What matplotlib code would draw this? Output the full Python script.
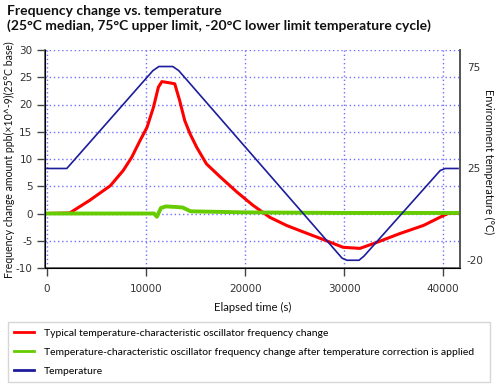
import numpy as np
import matplotlib
matplotlib.use("Agg")
import matplotlib.pyplot as plt
from matplotlib.lines import Line2D

# data (time in s)
red_time = [0, 2300, 4300, 6400, 7700, 8550, 9400, 10100, 10750, 11250, 11600, 12300,
            12900, 13400, 13900, 14450, 15100, 16100, 17500, 19200, 20800, 22500,
            24200, 25900, 27500, 29900, 31600, 33300, 35600, 38000, 40000, 40500, 41500]
red_ppb = [0, 0.1, 2.4, 5.1, 7.9, 10.3, 13.4, 15.8, 19.5, 23.2, 24.2, 24.0,
           23.8, 20.7, 17.1, 14.6, 12.2, 9.1, 6.7, 3.9, 1.5, -0.7,
           -2.2, -3.4, -4.5, -6.2, -6.4, -5.3, -3.7, -2.2, -0.4, 0, 0]

green_time = [0, 10800, 11100, 11500, 12000, 13000, 13700, 14500, 20000, 30000, 41500]
green_ppb = [0, 0, -0.6, 1.0, 1.3, 1.2, 1.1, 0.4, 0.2, 0.1, 0.1]

temp_time = [0, 2000, 10700, 11300, 12700, 13300, 29800, 30300, 31500, 32000, 39700, 40200, 41500]
temp_c = [25, 25, 73, 75, 75, 73, -19, -20, -20, -18, 24, 25, 25]

labels = ["Typical temperature-characteristic oscillator frequency change",
          "Temperature-characteristic oscillator frequency change after temperature correction is applied",
          "Temperature"]
colors = ["#ff0000", "#66cc00", "#1c1c9c"]

txt_font = ["Lato", "DejaVu Sans"]
plt.rcParams['font.family'] = ["DejaVu Sans"]
plt.rcParams['axes.unicode_minus'] = False

fig = plt.figure(figsize=(5, 3.88), dpi=100)
ax = fig.add_axes([45/500, 1-268/388, 415/500, 218/388])

ax.plot(red_time, red_ppb, color=colors[0], lw=2.2, zorder=3)
ax.plot(green_time, green_ppb, color=colors[1], lw=2.8, zorder=4)

ax.set_xlim(-200, 41700)
ax.set_ylim(-10, 30)
ax.set_xticks(np.arange(0, 40001, 10000))
ax.set_yticks(np.arange(-10, 31, 5))
ax.tick_params(direction='out', length=5.5, width=1, colors='#444444', labelsize=7.5,
               labelcolor='#333333', right=True, labelright=False, pad=3.5)
ax.tick_params(axis='x', pad=6)
ax.grid(True, color='#7070ff', linestyle=(0, (1, 2)), linewidth=1)
for s in ['left', 'bottom', 'right']:
    ax.spines[s].set_color('#555555')
    ax.spines[s].set_linewidth(1.2)
ax.spines['top'].set_visible(False)

ax2 = ax.twinx()
ax2.plot(temp_time, temp_c, color=colors[2], lw=1.2, zorder=5)
ax2.set_ylim(-23.8, 83.1)
ax2.set_yticks([75, 25, -20])
ax2.tick_params(length=0, pad=5, labelsize=7.5, labelcolor='#333333')
ax2.spines['top'].set_visible(False)
ax2.spines['right'].set_color('#555555')
ax2.spines['right'].set_linewidth(1.2)

fig.text(253/500, 1-307/388, "Elapsed time (s)", family=txt_font, fontsize=8.2,
         ha='center', va='center', color='#111111')
fig.text(9/500, 1-160/388, "Frequency change amount ppb(\u00d710^-9)(25\u00b0C base)",
         family=txt_font, fontsize=7.6, rotation=90, ha='center', va='center', color='#111111')
fig.text(489/500, 1-162/388, "Environment temperature (\u00b0C)",
         family=txt_font, fontsize=7.8, rotation=270, ha='center', va='center', color='#111111')

fig.text(7/500, 1-11/388, "Frequency change vs. temperature", family=txt_font,
         fontsize=10, fontweight='bold', va='center', color='#111111')
fig.text(7/500, 1-26/388, "(25\u00b0C median, 75\u00b0C upper limit, -20\u00b0C lower limit temperature cycle)",
         family=txt_font, fontsize=10, fontweight='bold', va='center', color='#111111')

handles = [Line2D([], [], color=c, lw=2) for c in colors]
leg = fig.legend(handles, labels, loc='upper left',
                 bbox_to_anchor=(8/500, 1-384/388, 482/500, 62/388), mode='expand',
                 frameon=True, fancybox=False, edgecolor='#cccccc', borderaxespad=0,
                 prop={'family': txt_font, 'size': 7.5}, handlelength=1.85, handletextpad=1.0,
                 labelspacing=0.95, borderpad=0.6)
leg.get_frame().set_linewidth(1)

fig.savefig("out.png", dpi=100)
